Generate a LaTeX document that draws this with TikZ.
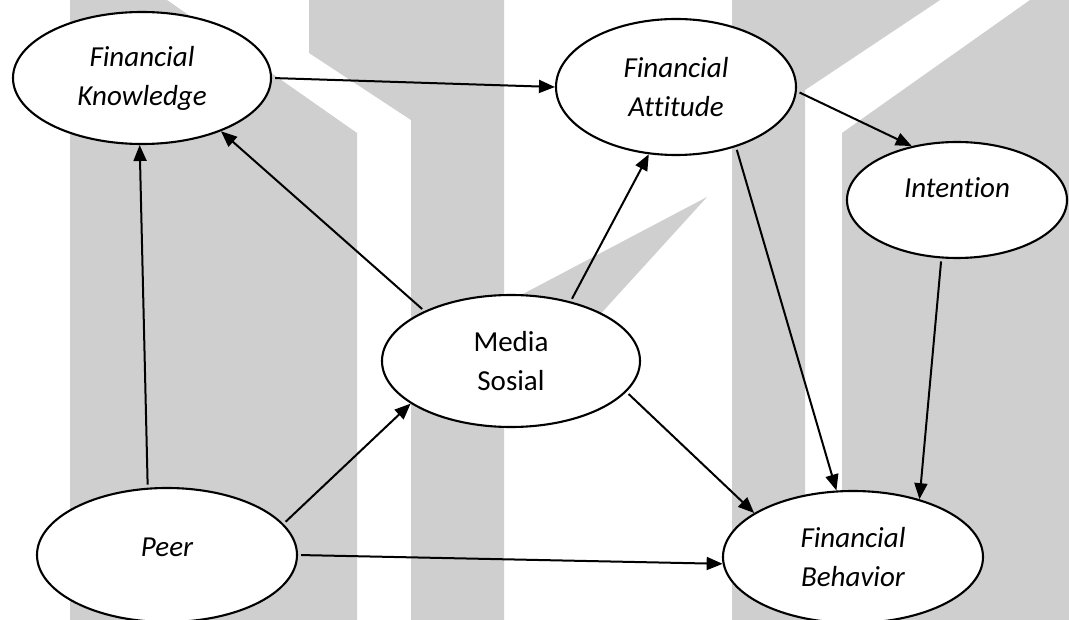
\documentclass[tikz,border=0pt]{standalone}
\usepackage{fontspec}
\setmainfont{Carlito}[Ligatures=NoCommon]
\usetikzlibrary{shapes.geometric,arrows.meta}
\definecolor{wm}{RGB}{207,207,207}
\tikzset{
  var/.style={ellipse, draw=black, line width=2.1pt, fill=white, inner sep=0pt, align=center,
    font=\fontsize{29}{39}\selectfont},
  conn/.style={line width=2pt, -{Triangle[length=16pt,width=13pt]}, shorten <=3pt},
}
\begin{document}
\begin{tikzpicture}[x=1pt,y=-1pt]
\useasboundingbox (0,0) rectangle (1069,620);
\fill[white] (0,0) rectangle (1069,620);
% watermark
\fill[wm] (70,0) -- (167,0) -- (357,133) -- (357,620) -- (70,620) -- cycle;
\fill[wm] (309,0) -- (504,0) -- (504,620) -- (411,620) -- (411,120) -- (309,53) -- cycle;
\fill[wm] (504,304) -- (707,197) -- (504,420) -- cycle;
\fill[wm] (732,0) -- (940,0) -- (805,90) -- (805,620) -- (732,620) -- cycle;
\fill[wm] (1030,0) -- (1069,0) -- (1069,620) -- (842,620) -- (842,133) -- cycle;
% nodes
\node[var, minimum width=258pt, minimum height=132pt] (fk) at (142,78) {\itshape Financial\\\itshape Knowledge};
\node[var, minimum width=240pt, minimum height=136pt] (fa) at (676,87) {\itshape Financial\\\itshape Attitude};
\node[var, minimum width=220pt, minimum height=116pt, text height=20pt, text depth=24pt] (in) at (957,200) {\itshape Intention};
\node[var, minimum width=258pt, minimum height=132pt] (ms) at (511,361) {Media\\Sosial};
\node[var, minimum width=260pt, minimum height=134pt, text height=20pt, text depth=18pt] (pe) at (167,555) {\itshape Peer};
\node[var, minimum width=260pt, minimum height=132pt] (fb) at (853,557) {\itshape Financial\\\itshape Behavior};
% connectors
\draw[conn] (fk.0) -- (fa.180);
\draw[conn] (pe.106.4) -- (fk.268.3);
\draw[conn] (ms.150.6) -- (fk.-34);
\draw[conn] (ms.45) -- (fa.248);
\draw[conn] (fa.-2.9) -- (in.130.3);
\draw[conn] (fa.-45.5) -- (fb.104.2);
\draw[conn] (in.-105.6) -- (fb.41.8);
\draw[conn] (ms.-15.4) -- (fb.156.1);
\draw[conn] (pe.15.2) -- (ms.203.6);
\draw[conn] (pe.0) -- (fb.183.5);
\end{tikzpicture}
\end{document}
